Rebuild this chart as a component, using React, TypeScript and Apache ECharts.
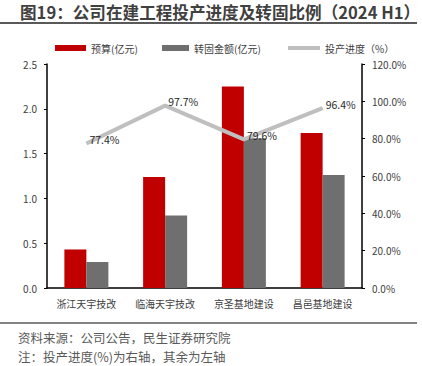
import React, { useEffect, useRef } from "react";
import * as echarts from "echarts";

const categories = ["浙江天宇技改", "临海天宇技改", "京圣基地建设", "昌邑基地建设"];
const budget = [0.43, 1.24, 2.25, 1.73];
const transferred = [0.29, 0.81, 1.67, 1.26];
const progress = [77.4, 97.7, 79.6, 96.4];

const titleText = "图19：公司在建工程投产进度及转固比例（2024 H1）";
const sourceText = "资料来源：公司公告，民生证券研究院";
const noteText = "注：投产进度(%)为右轴，其余为左轴";

const FONT = "'Noto Sans CJK SC', 'Noto Sans', sans-serif";

export default function App() {
  const ref = useRef<HTMLDivElement>(null);
  useEffect(() => {
    const chart = echarts.init(ref.current!, null, { renderer: "svg" });
    const textStyle = { fontFamily: FONT, fontSize: 10, color: "#404040" };
    chart.setOption({
      animation: false,
      textStyle: { fontFamily: FONT },
      legend: [
        {
          data: [{ name: "预算(亿元)", icon: "rect" }],
          left: 50, top: 38, itemWidth: 31, itemHeight: 6, itemGap: 5, textStyle,
        },
        {
          data: [{ name: "转固金额(亿元)", icon: "rect" }],
          left: 157, top: 38, itemWidth: 27, itemHeight: 6, textStyle,
        },
        {
          data: [{ name: "投产进度（%）", icon: "rect" }],
          left: 283, top: 38, itemWidth: 32, itemHeight: 4, textStyle,
        },
      ],
      grid: { left: 47, right: 60, top: 64, bottom: 78 },
      xAxis: {
        type: "category",
        data: categories,
        axisLine: { lineStyle: { color: "#000", width: 1.5 } },
        axisTick: { show: false },
        axisLabel: { ...textStyle, margin: 10 },
      },
      yAxis: [
        {
          type: "value",
          min: 0, max: 2.5, interval: 0.5,
          axisLine: { show: true, lineStyle: { color: "#000", width: 1.5 } },
          axisTick: { show: true, length: 3, lineStyle: { color: "#000" } },
          splitLine: { show: false },
          axisLabel: { ...textStyle, margin: 10, formatter: (v: number) => v.toFixed(1) },
        },
        {
          type: "value",
          min: 0, max: 120, interval: 20,
          axisLine: { show: true, lineStyle: { color: "#000", width: 1.5 } },
          axisTick: { show: true, length: 3, lineStyle: { color: "#000" } },
          splitLine: { show: false },
          axisLabel: { ...textStyle, margin: 10, formatter: (v: number) => v.toFixed(1) + "%" },
        },
      ],
      series: [
        {
          name: "预算(亿元)",
          type: "bar",
          data: budget,
          barWidth: 22,
          barGap: "0%",
          itemStyle: { color: "#C00000" },
        },
        {
          name: "转固金额(亿元)",
          type: "bar",
          data: transferred,
          barWidth: 22,
          barGap: "0%",
          itemStyle: { color: "#6F6F6F" },
        },
        {
          name: "投产进度（%）",
          type: "line",
          yAxisIndex: 1,
          data: progress,
          symbol: "circle",
          symbolSize: 0.1,
          showSymbol: true,
          lineStyle: { color: "#BFBFBF", width: 4 },
          itemStyle: { color: "#BFBFBF" },
          label: {
            show: true,
            position: "right",
            distance: 3,
            offset: [0, -4],
            fontFamily: FONT,
            fontSize: 10.5,
            color: "#262626",
            formatter: (p: any) => p.value.toFixed(1) + "%",
          },
        },
      ],
      graphic: [
        {
          type: "text",
          left: 20, top: 4,
          style: { text: titleText, font: `bold 16.6px ${FONT}`, fill: "#404040" },
        },
        {
          type: "line",
          shape: { x1: 0, y1: 23, x2: 417, y2: 23 },
          style: { stroke: "#595959", lineWidth: 2 },
        },
        {
          type: "line",
          shape: { x1: 0, y1: 323, x2: 417, y2: 323 },
          style: { stroke: "#595959", lineWidth: 1.5 },
        },
        {
          type: "text",
          left: 18, top: 331,
          style: { text: sourceText, font: `12.5px ${FONT}`, fill: "#595959" },
        },
        {
          type: "text",
          left: 18, top: 350,
          style: { text: noteText, font: `12.5px ${FONT}`, fill: "#595959" },
        },
      ],
    });
    return () => chart.dispose();
  }, []);
  return <div ref={ref} style={{ width: 422, height: 366, position: "absolute", left: 0, top: 0 }} />;
}
